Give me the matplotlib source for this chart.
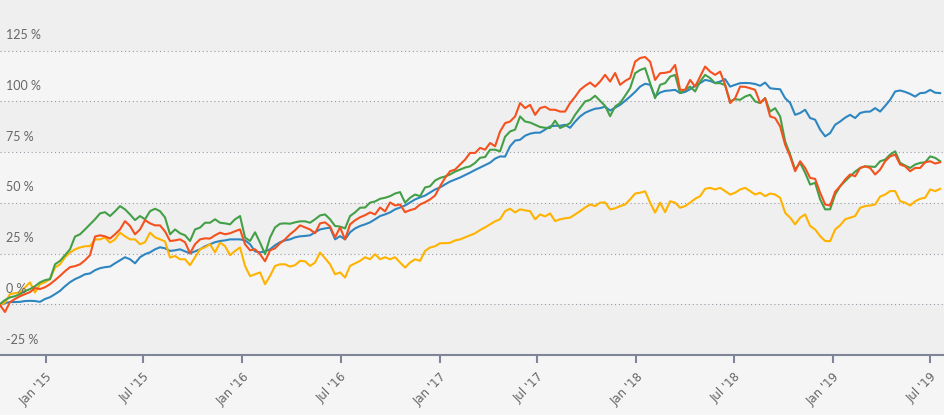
import pandas as pd
import matplotlib.pyplot as plt
import matplotlib.transforms as mtransforms

# sampled values (percent), evenly spaced from early Oct 2014 to mid Jul 2019
blue = [
    -0.4, 0.6, 1.1, 1.1, 1.2, 1.6, 1.7, 1.6, 1.2, 2.6,
    3.5, 5.0, 6.6, 8.9, 10.9, 12.4, 13.5, 14.8, 15.2, 16.8,
    17.8, 18.3, 18.6, 20.2, 21.7, 23.2, 22.2, 20.2, 23.2, 24.7,
    25.6, 27.1, 28.1, 27.6, 26.3, 26.6, 27.1, 26.1, 25.1, 26.1,
    27.1, 28.6, 29.6, 30.6, 31.2, 31.5, 32.0, 32.0, 32.0, 31.5,
    29.6, 26.1, 25.6, 26.1, 27.1, 29.1, 30.6, 31.5, 32.0, 33.0,
    33.5, 33.7, 34.0, 35.5, 36.9, 37.4, 37.8, 32.0, 33.6, 32.0,
    35.5, 37.4, 38.6, 39.4, 40.4, 41.9, 43.5, 44.3, 45.3, 46.8,
    47.7, 48.7, 50.2, 51.7, 52.7, 53.6, 55.1, 56.6, 57.6, 59.1,
    60.5, 61.5, 62.5, 63.7, 64.9, 66.2, 67.4, 68.6, 69.8, 71.8,
    72.9, 72.8, 77.9, 80.7, 81.1, 83.1, 84.1, 84.6, 84.6, 86.1,
    87.7, 88.0, 88.0, 88.5, 87.0, 90.0, 92.6, 94.4, 95.5, 96.4,
    96.7, 97.4, 95.5, 96.9, 98.3, 100.3, 102.4, 104.7, 107.3, 108.7,
    108.2, 102.4, 104.4, 105.2, 105.4, 105.7, 104.1, 104.7, 106.0, 107.7,
    109.0, 110.6, 110.1, 109.1, 109.8, 111.0, 107.3, 108.2, 109.0, 109.1,
    109.0, 108.6, 107.7, 109.3, 106.5, 106.2, 106.0, 101.6, 99.3, 93.4,
    94.3, 95.9, 91.8, 91.0, 86.1, 82.8, 84.4, 88.5, 90.1, 92.0,
    93.4, 91.8, 94.3, 94.9, 95.0, 96.7, 95.0, 97.8, 100.8, 104.9,
    105.4, 104.7, 103.7, 102.4, 104.1, 104.3, 105.7, 104.3, 104.1,
]
red = [
    -0.4, -3.8, 1.1, 2.6, 4.0, 5.0, 6.0, 8.0, 7.5, 8.4,
    9.9, 11.9, 14.0, 16.3, 18.3, 18.8, 19.7, 21.7, 24.2, 33.4,
    34.0, 33.5, 32.4, 34.5, 36.9, 41.0, 38.6, 34.5, 36.9, 41.5,
    39.9, 38.9, 38.9, 35.9, 31.2, 31.5, 32.0, 30.6, 25.1, 29.6,
    32.0, 32.5, 32.4, 34.0, 35.3, 34.5, 35.0, 36.0, 36.9, 29.6,
    26.6, 27.1, 24.7, 21.2, 26.6, 27.6, 30.1, 32.0, 34.5, 36.5,
    38.9, 37.9, 36.9, 35.0, 39.9, 40.4, 38.4, 33.0, 37.9, 32.0,
    39.4, 41.4, 42.9, 43.9, 45.3, 44.3, 47.7, 45.8, 50.2, 48.7,
    49.2, 45.4, 46.4, 47.1, 49.2, 50.3, 51.7, 53.6, 58.2, 62.3,
    65.6, 66.4, 68.9, 71.3, 74.6, 74.6, 77.1, 76.2, 79.5, 77.9,
    85.2, 89.3, 90.1, 92.6, 99.2, 96.7, 98.3, 93.4, 96.7, 97.4,
    95.9, 95.9, 95.0, 95.0, 99.2, 102.3, 105.7, 107.7, 109.3, 107.3,
    109.8, 113.1, 109.8, 114.0, 108.2, 110.1, 111.5, 119.6, 121.4, 121.9,
    119.6, 110.6, 113.9, 114.1, 114.7, 118.0, 105.7, 105.7, 110.6, 107.3,
    112.2, 117.2, 114.7, 113.1, 114.7, 108.2, 99.2, 101.6, 107.3, 107.2,
    106.5, 105.7, 99.2, 101.6, 92.6, 91.8, 87.7, 78.7, 72.9, 65.6,
    70.5, 67.2, 62.3, 61.8, 55.0, 49.2, 48.7, 55.5, 58.2, 61.5,
    64.0, 63.1, 67.2, 68.0, 67.2, 64.0, 66.4, 70.5, 72.9, 73.8,
    68.9, 68.0, 65.6, 67.2, 67.2, 70.0, 70.5, 69.4, 70.0,
]
green = [
    0.1, 2.1, 3.4, 4.0, 5.0, 6.5, 7.5, 8.9, 10.8, 11.9,
    12.4, 19.7, 21.4, 24.2, 27.1, 33.4, 34.5, 36.9, 39.4, 41.9,
    44.8, 45.4, 43.5, 45.8, 48.4, 46.8, 44.3, 41.5, 43.5, 41.9,
    45.9, 47.1, 45.9, 42.8, 34.5, 36.9, 35.0, 34.0, 31.2, 36.9,
    37.8, 40.2, 40.2, 41.9, 40.2, 39.9, 39.4, 41.9, 43.5, 32.9,
    31.2, 35.5, 30.4, 24.7, 32.9, 37.9, 39.7, 39.9, 39.7, 40.4,
    40.9, 40.9, 40.2, 41.9, 43.8, 44.3, 41.9, 38.6, 38.3, 37.4,
    43.5, 45.3, 47.6, 47.7, 50.1, 50.7, 52.0, 52.5, 53.3, 54.6,
    55.3, 50.1, 52.5, 54.1, 53.3, 57.6, 58.2, 61.0, 62.3, 63.0,
    64.0, 65.4, 66.4, 67.4, 68.0, 69.7, 72.2, 72.6, 76.2, 76.2,
    75.4, 82.6, 85.2, 86.1, 92.6, 90.1, 89.6, 88.5, 87.4, 87.0,
    86.9, 90.5, 86.9, 88.0, 89.3, 93.4, 96.7, 100.0, 100.8, 102.8,
    100.3, 97.8, 92.7, 97.5, 99.2, 102.8, 106.5, 113.9, 115.5, 116.4,
    109.0, 101.6, 108.2, 109.0, 112.2, 113.1, 104.1, 105.7, 107.3, 104.9,
    109.8, 113.1, 111.5, 109.0, 109.0, 108.0, 100.0, 101.1, 100.8, 102.4,
    103.3, 100.0, 99.2, 101.6, 95.0, 96.7, 92.6, 80.3, 73.8, 66.4,
    69.7, 64.8, 59.0, 59.9, 51.7, 46.8, 46.8, 54.1, 58.2, 60.7,
    63.1, 65.4, 67.2, 68.0, 67.9, 67.7, 70.5, 71.3, 73.8, 75.4,
    69.7, 68.4, 67.2, 68.9, 69.7, 70.0, 72.9, 72.2, 70.5,
]
yellow = [
    -0.4, 0.9, 5.0, 5.5, 5.8, 8.3, 10.8, 5.8, 9.9, 10.9,
    12.4, 18.1, 19.7, 23.2, 25.5, 27.1, 28.0, 28.6, 28.7, 32.0,
    32.0, 32.9, 30.4, 32.0, 35.3, 33.5, 32.0, 32.0, 29.6, 30.6,
    35.3, 33.0, 32.0, 31.0, 23.0, 23.8, 22.2, 22.2, 19.3, 23.2,
    27.1, 28.1, 29.6, 25.6, 30.4, 28.7, 24.2, 26.3, 28.0, 18.9,
    13.9, 14.8, 15.7, 9.9, 14.0, 18.9, 19.7, 19.7, 18.6, 19.3,
    21.4, 21.2, 18.9, 20.6, 25.5, 22.7, 19.7, 14.8, 15.7, 13.2,
    18.9, 20.2, 21.4, 23.2, 22.2, 24.7, 22.2, 23.2, 22.2, 23.2,
    20.6, 18.1, 20.6, 22.2, 21.4, 26.3, 28.0, 28.6, 30.1, 30.1,
    30.3, 31.5, 32.0, 33.0, 34.0, 35.0, 36.6, 37.9, 39.4, 40.9,
    41.9, 45.9, 47.1, 45.3, 46.8, 46.3, 45.9, 41.9, 44.3, 43.3,
    44.8, 41.0, 41.9, 42.4, 42.7, 44.3, 45.9, 47.7, 49.2, 48.4,
    50.1, 50.2, 46.8, 47.3, 48.4, 49.2, 51.7, 54.6, 55.0, 55.7,
    50.1, 45.2, 50.1, 45.4, 50.8, 50.1, 47.6, 48.4, 50.1, 52.0,
    53.3, 56.9, 57.4, 56.6, 57.4, 55.8, 54.1, 55.0, 56.6, 57.4,
    55.8, 54.1, 55.0, 53.3, 54.6, 54.1, 52.5, 45.1, 42.7, 39.4,
    42.7, 44.3, 38.6, 36.9, 33.6, 31.2, 31.1, 36.9, 38.9, 41.9,
    42.7, 43.5, 47.6, 48.4, 48.7, 49.2, 53.1, 54.1, 55.8, 55.8,
    50.8, 50.1, 48.7, 50.8, 52.0, 52.5, 56.6, 55.8, 56.9,
]

dates = pd.date_range('2014-10-08', '2019-07-19', periods=len(blue))

tick_dates = pd.to_datetime(['2015-01-01', '2015-07-01', '2016-01-01', '2016-07-01',
                             '2017-01-01', '2017-07-01', '2018-01-01', '2018-07-01',
                             '2019-01-01', '2019-07-01'])
tick_labels = ["Jan '15", "Jul '15", "Jan '16", "Jul '16", "Jan '17",
               "Jul '17", "Jan '18", "Jul '18", "Jan '19", "Jul '19"]
y_levels = [-25, 0, 25, 50, 75, 100, 125]

plt.rcParams['font.family'] = ['Lato', 'DejaVu Sans']

fig = plt.figure(figsize=(9.45, 4.15), dpi=100, facecolor='#f5f5f5')
ax = fig.add_axes([0, 60 / 415, 1, 355 / 415])
ax.set_facecolor('#f5f5f5')

# alternating bands
for lo in [-25, 25, 75, 125]:
    ax.axhspan(lo, lo + 25, color='#efefef', zorder=0, lw=0)

for v in y_levels[1:]:
    ax.axhline(v, color='#9a9aa8', lw=0.8, ls=(0, (1, 2.5)), zorder=1)

ax.plot(dates, blue, color='#2e86c1', lw=1.5, zorder=3)
ax.plot(dates, yellow, color='#ffb300', lw=1.5, zorder=3)
ax.plot(dates, green, color='#43a047', lw=1.5, zorder=4)
ax.plot(dates, red, color='#f4511e', lw=1.5, zorder=4)

ax.set_xlim(pd.Timestamp('2014-10-08'), pd.Timestamp('2019-07-28'))
ax.set_ylim(-25, 150)

trans = mtransforms.blended_transform_factory(ax.transAxes, ax.transData)
for v in y_levels:
    ax.text(0.006, v + 7.6, f'{v} %', transform=trans, ha='left', va='center',
            fontsize=9, color='#666666', zorder=5)

ax.set_yticks([])
ax.set_xticks(tick_dates)
ax.set_xticklabels(tick_labels, rotation=45, ha='right', rotation_mode='anchor',
                   fontsize=8.5, color='#666666', family='DejaVu Sans')
ax.tick_params(axis='x', length=6, width=1.5, color='#7d8596', pad=5)

for s in ['top', 'left', 'right']:
    ax.spines[s].set_visible(False)
ax.spines['bottom'].set_color('#7d8596')
ax.spines['bottom'].set_linewidth(1.5)

fig.savefig('out.png', dpi=100, facecolor=fig.get_facecolor())
